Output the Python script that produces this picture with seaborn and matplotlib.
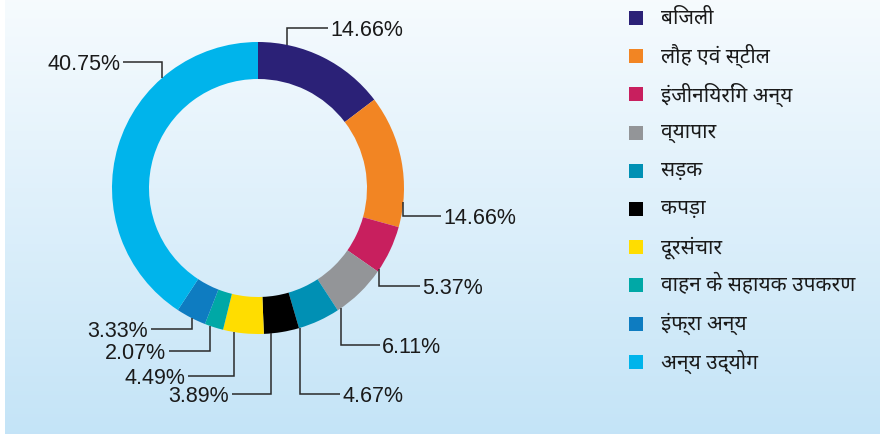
import numpy as np
import matplotlib
matplotlib.use("Agg")
import matplotlib.pyplot as plt
from matplotlib.patches import Rectangle
import seaborn as sns

# Sector shares of the total (per cent), clockwise from 12 o'clock
sectors = ["बिजली", "लौह एवं स्टील", "इंजीनियरिंग अन्य", "व्यापार", "सड़क",
           "कपड़ा", "दूरसंचार", "वाहन के सहायक उपकरण", "इंफ्रा अन्य", "अन्य उद्योग"]
shares = [14.66, 14.66, 5.37, 6.11, 4.67, 3.89, 4.49, 2.07, 3.33, 40.75]
value_labels = ["14.66%", "14.66%", "5.37%", "6.11%", "4.67%",
                "3.89%", "4.49%", "2.07%", "3.33%", "40.75%"]
colors = ["#2b2177", "#f28523", "#c81f5e", "#939598", "#0090b4",
          "#000000", "#ffdd00", "#00a8a6", "#0e7cc1", "#00b4eb"]

sns.set_theme(style="white")
plt.rcParams["font.family"] = ["Liberation Sans", "DejaVu Sans"]

W, H = 880, 434
fig = plt.figure(figsize=(W / 100, H / 100), dpi=100)
fig.patch.set_facecolor("white")

# soft vertical gradient behind the chart
bg = fig.add_axes([5 / W, 0, 1 - 5 / W, 1])
grad = np.linspace(0, 1, 256)[:, None]
top = np.array([0.965, 0.984, 0.996])
bottom = np.array([0.769, 0.894, 0.969])
img = top[None, None, :] * (1 - grad[..., None]) + bottom[None, None, :] * grad[..., None]
bg.imshow(img, aspect="auto", extent=(0, 1, 1, 0))
bg.set_axis_off()

# main drawing area in pixel units, y pointing down
ax = fig.add_axes([0, 0, 1, 1])
ax.set_xlim(0, W)
ax.set_ylim(H, 0)
ax.set_axis_off()
ax.patch.set_alpha(0)

cx, cy, R, ring = 258, 188, 146, 37
wedges, _ = ax.pie(shares, colors=colors, startangle=-90, counterclock=True,
                   center=(cx, cy), radius=R,
                   wedgeprops=dict(width=ring, linewidth=0))
ax.set_xlim(0, W)
ax.set_ylim(H, 0)
ax.set_aspect("equal")

# leader lines: anchor point inside each slice (fraction of its sweep),
# elbow height, end of horizontal run and which side the label sits on
anchor_frac = [0.22, 0.81, 0.95, 0.92, 0.98, 0.80, 0.72, 0.74, 0.47, 0.72]
label_y = [28, 216, 286, 345, 394, 394, 376, 351, 329, 62]
label_x = [328, 441, 420, 380, 340, 232, 188, 169, 151, 123]
side = ["r", "r", "r", "r", "r", "l", "l", "l", "l", "l"]

total = sum(shares)
start = 0.0
for i, v in enumerate(shares):
    sweep = 360.0 * v / total
    a = np.radians(start + anchor_frac[i] * sweep)
    start += sweep
    px = cx + R * np.sin(a)
    py = cy - R * np.cos(a)
    ax.plot([px, px, label_x[i]], [py, label_y[i], label_y[i]],
            color="#2a2a2a", lw=1.1, solid_capstyle="butt", solid_joinstyle="miter")
    if side[i] == "r":
        ax.text(label_x[i] + 2, label_y[i], value_labels[i], ha="left", va="center_baseline",
                fontsize=15.5, color="#1a1a1a")
    else:
        ax.text(label_x[i] - 3, label_y[i], value_labels[i], ha="right", va="center_baseline",
                fontsize=15.5, color="#1a1a1a")

# legend: colour squares with sector names
row0, step, sq = 18, 38.2, 14
for i, (name, c) in enumerate(zip(sectors, colors)):
    y = row0 + i * step
    ax.add_patch(Rectangle((629, y - sq / 2), sq, sq, facecolor=c, edgecolor="none"))
    ax.text(661, y, name, ha="left", va="center", fontsize=15,
            family=["Noto Sans Devanagari", "DejaVu Sans"], color="#1a1a1a")

fig.savefig("out.png", dpi=100)
